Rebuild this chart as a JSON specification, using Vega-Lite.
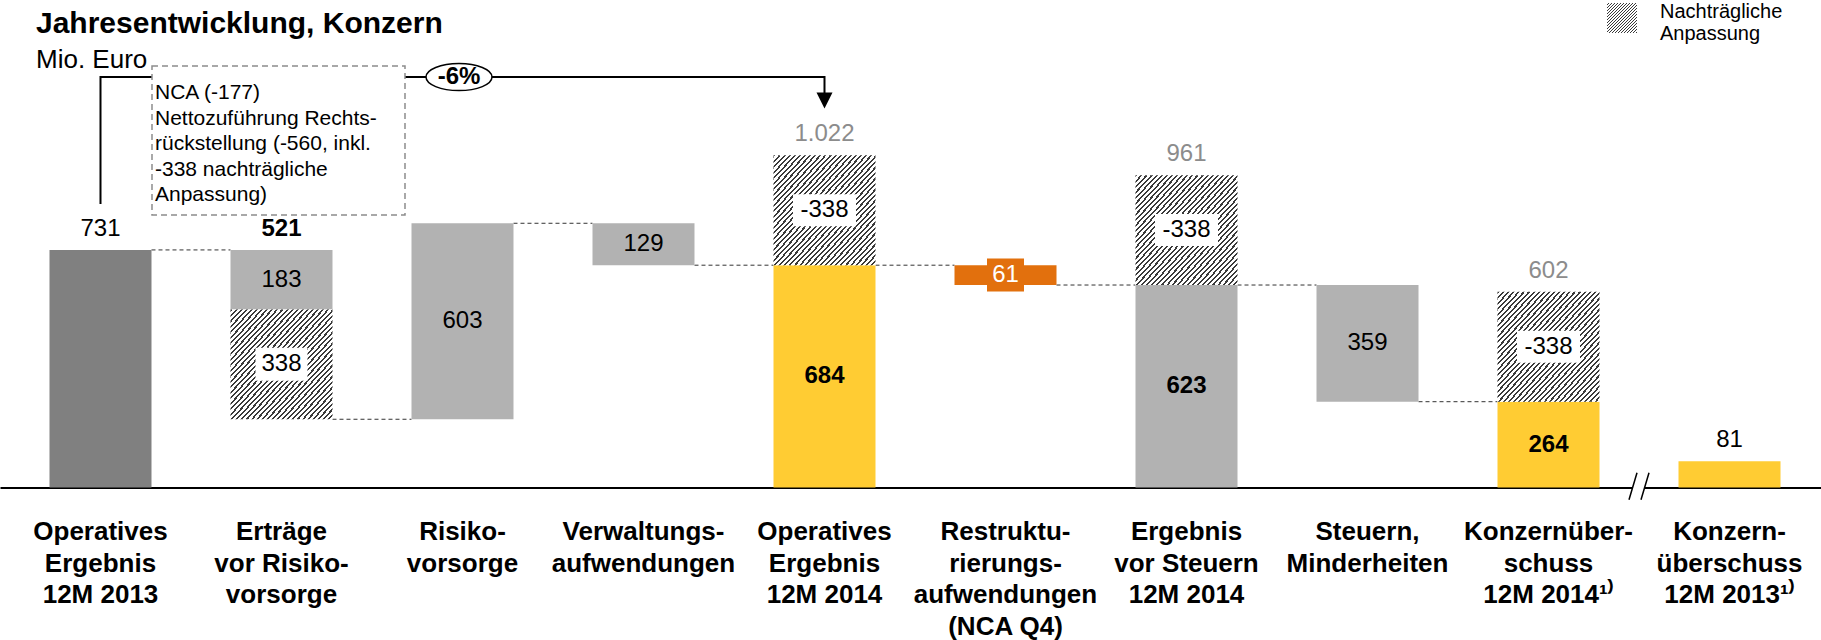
{
  "$schema": "https://vega.github.io/schema/vega-lite/v6.json",
  "width": 1821,
  "height": 487.5,
  "autosize": {"type": "none"},
  "padding": {"left": 0, "top": 0, "right": 0, "bottom": 152.5},
  "background": "white",
  "config": {"view": {"stroke": null}, "font": "Liberation Sans"},
  "title": {
    "text": "Jahresentwicklung, Konzern",
    "subtitle": "Mio. Euro",
    "anchor": "start",
    "frame": "group",
    "orient": "top",
    "offset": 0,
    "dx": 36,
    "dy": 73,
    "font": "Liberation Sans",
    "fontSize": 30,
    "fontWeight": "bold",
    "color": "black",
    "subtitleFont": "Liberation Sans",
    "subtitleFontSize": 26,
    "subtitleColor": "black",
    "subtitlePadding": 8
  },
  "datasets": {
    "balken": [
      {"cat": "Operatives|Ergebnis|12M 2013", "v2": 0, "v": 731, "art": "Ausgangswert"},
      {"cat": "Erträge|vor Risiko-|vorsorge", "v2": 548, "v": 731, "art": "Veränderung"},
      {"cat": "Erträge|vor Risiko-|vorsorge", "v2": 210, "v": 548, "art": "Nachträgliche Anpassung"},
      {"cat": "Risiko-|vorsorge", "v2": 210, "v": 813, "art": "Veränderung"},
      {"cat": "Verwaltungs-|aufwendungen", "v2": 684, "v": 813, "art": "Veränderung"},
      {"cat": "Operatives|Ergebnis|12M 2014", "v2": 0, "v": 684, "art": "Ergebnis"},
      {"cat": "Operatives|Ergebnis|12M 2014", "v2": 684, "v": 1022, "art": "Nachträgliche Anpassung"},
      {"cat": "Restruktu-|rierungs-|aufwendungen|(NCA Q4)", "v2": 623, "v": 684, "art": "Restrukturierung"},
      {"cat": "Ergebnis|vor Steuern|12M 2014", "v2": 0, "v": 623, "art": "Veränderung"},
      {"cat": "Ergebnis|vor Steuern|12M 2014", "v2": 623, "v": 961, "art": "Nachträgliche Anpassung"},
      {"cat": "Steuern,|Minderheiten", "v2": 264, "v": 623, "art": "Veränderung"},
      {"cat": "Konzernüber-|schuss|12M 2014¹⁾", "v2": 0, "v": 264, "art": "Ergebnis"},
      {"cat": "Konzernüber-|schuss|12M 2014¹⁾", "v2": 264, "v": 602, "art": "Nachträgliche Anpassung"},
      {"cat": "Konzern-|überschuss|12M 2013¹⁾", "v2": 0, "v": 81, "art": "Ergebnis"}
    ],
    "verbindungen": [
      {"cat": "Operatives|Ergebnis|12M 2013", "nach": "Erträge|vor Risiko-|vorsorge", "v": 731},
      {"cat": "Erträge|vor Risiko-|vorsorge", "nach": "Risiko-|vorsorge", "v": 210},
      {"cat": "Risiko-|vorsorge", "nach": "Verwaltungs-|aufwendungen", "v": 813},
      {"cat": "Verwaltungs-|aufwendungen", "nach": "Operatives|Ergebnis|12M 2014", "v": 684},
      {"cat": "Operatives|Ergebnis|12M 2014", "nach": "Restruktu-|rierungs-|aufwendungen|(NCA Q4)", "v": 684},
      {"cat": "Restruktu-|rierungs-|aufwendungen|(NCA Q4)", "nach": "Ergebnis|vor Steuern|12M 2014", "v": 623},
      {"cat": "Ergebnis|vor Steuern|12M 2014", "nach": "Steuern,|Minderheiten", "v": 623},
      {"cat": "Steuern,|Minderheiten", "nach": "Konzernüber-|schuss|12M 2014¹⁾", "v": 264}
    ],
    "werte": [
      {"cat": "Operatives|Ergebnis|12M 2013", "v": 731, "label": "731", "rolle": "oben"},
      {"cat": "Erträge|vor Risiko-|vorsorge", "v": 731, "label": "521", "rolle": "summe"},
      {"cat": "Erträge|vor Risiko-|vorsorge", "v": 639.5, "label": "183", "rolle": "innen"},
      {"cat": "Erträge|vor Risiko-|vorsorge", "v": 379, "label": "338", "rolle": "anpassung"},
      {"cat": "Risiko-|vorsorge", "v": 511.5, "label": "603", "rolle": "innen"},
      {"cat": "Verwaltungs-|aufwendungen", "v": 748.5, "label": "129", "rolle": "innen"},
      {"cat": "Operatives|Ergebnis|12M 2014", "v": 1022, "label": "1.022", "rolle": "brutto"},
      {"cat": "Operatives|Ergebnis|12M 2014", "v": 853, "label": "-338", "rolle": "anpassung"},
      {"cat": "Operatives|Ergebnis|12M 2014", "v": 342, "label": "684", "rolle": "ergebnis"},
      {"cat": "Restruktu-|rierungs-|aufwendungen|(NCA Q4)", "v": 653.5, "label": "61", "rolle": "restrukturierung"},
      {"cat": "Ergebnis|vor Steuern|12M 2014", "v": 961, "label": "961", "rolle": "brutto"},
      {"cat": "Ergebnis|vor Steuern|12M 2014", "v": 792, "label": "-338", "rolle": "anpassung"},
      {"cat": "Ergebnis|vor Steuern|12M 2014", "v": 311.5, "label": "623", "rolle": "ergebnis"},
      {"cat": "Steuern,|Minderheiten", "v": 443.5, "label": "359", "rolle": "innen"},
      {"cat": "Konzernüber-|schuss|12M 2014¹⁾", "v": 602, "label": "602", "rolle": "brutto"},
      {"cat": "Konzernüber-|schuss|12M 2014¹⁾", "v": 433, "label": "-338", "rolle": "anpassung"},
      {"cat": "Konzernüber-|schuss|12M 2014¹⁾", "v": 132, "label": "264", "rolle": "ergebnis"},
      {"cat": "Konzern-|überschuss|12M 2013¹⁾", "v": 81, "label": "81", "rolle": "oben"}
    ],
    "klammer": [
      {"cat": "Operatives|Ergebnis|12M 2013", "v": 872, "o": 1},
      {"cat": "Operatives|Ergebnis|12M 2013", "v": 1263, "o": 2},
      {"cat": "Operatives|Ergebnis|12M 2014", "v": 1263, "o": 3},
      {"cat": "Operatives|Ergebnis|12M 2014", "v": 1191, "o": 4}
    ],
    "pfeil": [
      {"cat": "Operatives|Ergebnis|12M 2014", "v": 1191}
    ],
    "veraenderung": [
      {"cat": "Risiko-|vorsorge", "v": 1263, "label": "-6%"}
    ],
    "notizrahmen": [
      {"cat": "Erträge|vor Risiko-|vorsorge", "v": 1067.7}
    ],
    "notiztext": [
      {"cat": "Erträge|vor Risiko-|vorsorge", "v": 1247, "text": "NCA (-177)\nNettozuführung Rechts-\nrückstellung (-560, inkl.\n-338 nachträgliche\nAnpassung)"}
    ],
    "bruch": [
      {"cat": "Konzernüber-|schuss|12M 2014¹⁾", "v": 0}
    ]
  },
  "encoding": {
    "x": {
      "field": "cat",
      "type": "nominal",
      "scale": {
        "type": "band",
        "domain": [
          "Operatives|Ergebnis|12M 2013",
          "Erträge|vor Risiko-|vorsorge",
          "Risiko-|vorsorge",
          "Verwaltungs-|aufwendungen",
          "Operatives|Ergebnis|12M 2014",
          "Restruktu-|rierungs-|aufwendungen|(NCA Q4)",
          "Ergebnis|vor Steuern|12M 2014",
          "Steuern,|Minderheiten",
          "Konzernüber-|schuss|12M 2014¹⁾",
          "Konzern-|überschuss|12M 2013¹⁾"
        ],
        "paddingInner": 0.43646,
        "paddingOuter": 0.2486,
        "align": 0.55,
        "round": false
      },
      "axis": {
        "title": null,
        "labelExpr": "split(datum.value, '|')",
        "labelAngle": 0,
        "labelFont": "Liberation Sans",
        "labelFontSize": 26,
        "labelFontWeight": "bold",
        "labelColor": "black",
        "labelLineHeight": 31.5,
        "labelPadding": 31,
        "labelLimit": 0,
        "labelOverlap": false,
        "labelBound": false,
        "labelFlush": false,
        "ticks": false,
        "tickSize": 0,
        "domainColor": "black",
        "domainWidth": 2,
        "grid": false
      }
    },
    "y": {
      "field": "v",
      "type": "quantitative",
      "scale": {"domain": [0, 1500], "nice": false, "zero": false},
      "axis": null
    }
  },
  "layer": [
    {
      "data": {"name": "verbindungen"},
      "mark": {"type": "rule", "strokeDash": [4, 3], "strokeWidth": 1, "color": "#333333"},
      "encoding": {
        "x": {"field": "cat", "type": "nominal", "bandPosition": 1},
        "x2": {"field": "nach", "bandPosition": 0}
      }
    },
    {
      "data": {"name": "balken"},
      "transform": [{"filter": "datum.art != 'Nachträgliche Anpassung'"}],
      "mark": {"type": "bar"},
      "encoding": {
        "y2": {"field": "v2"},
        "color": {
          "field": "art",
          "type": "nominal",
          "scale": {
            "domain": ["Ausgangswert", "Veränderung", "Ergebnis", "Restrukturierung"],
            "range": ["#808080", "#B2B2B2", "#FFCC33", "#E2700D"]
          },
          "legend": null
        }
      }
    },
    {
      "data": {"name": "balken"},
      "transform": [{"filter": "datum.art == 'Nachträgliche Anpassung'"}],
      "mark": {"type": "bar", "strokeWidth": 0,
        "fill": {"gradient": "linear", "x1": 0, "y1": 0, "x2": 1, "y2": 1, "stops": [
                {"offset": 0, "color": "#3a3a3a"}, {"offset": 0.01, "color": "#3a3a3a"}, {"offset": 0.01, "color": "#ffffff"}, {"offset": 0.025, "color": "#ffffff"},
                {"offset": 0.025, "color": "#3a3a3a"}, {"offset": 0.035, "color": "#3a3a3a"}, {"offset": 0.035, "color": "#ffffff"}, {"offset": 0.05, "color": "#ffffff"},
                {"offset": 0.05, "color": "#3a3a3a"}, {"offset": 0.06, "color": "#3a3a3a"}, {"offset": 0.06, "color": "#ffffff"}, {"offset": 0.075, "color": "#ffffff"},
                {"offset": 0.075, "color": "#3a3a3a"}, {"offset": 0.085, "color": "#3a3a3a"}, {"offset": 0.085, "color": "#ffffff"}, {"offset": 0.1, "color": "#ffffff"},
                {"offset": 0.1, "color": "#3a3a3a"}, {"offset": 0.11, "color": "#3a3a3a"}, {"offset": 0.11, "color": "#ffffff"}, {"offset": 0.125, "color": "#ffffff"},
                {"offset": 0.125, "color": "#3a3a3a"}, {"offset": 0.135, "color": "#3a3a3a"}, {"offset": 0.135, "color": "#ffffff"}, {"offset": 0.15, "color": "#ffffff"},
                {"offset": 0.15, "color": "#3a3a3a"}, {"offset": 0.16, "color": "#3a3a3a"}, {"offset": 0.16, "color": "#ffffff"}, {"offset": 0.175, "color": "#ffffff"},
                {"offset": 0.175, "color": "#3a3a3a"}, {"offset": 0.185, "color": "#3a3a3a"}, {"offset": 0.185, "color": "#ffffff"}, {"offset": 0.2, "color": "#ffffff"},
                {"offset": 0.2, "color": "#3a3a3a"}, {"offset": 0.21, "color": "#3a3a3a"}, {"offset": 0.21, "color": "#ffffff"}, {"offset": 0.225, "color": "#ffffff"},
                {"offset": 0.225, "color": "#3a3a3a"}, {"offset": 0.235, "color": "#3a3a3a"}, {"offset": 0.235, "color": "#ffffff"}, {"offset": 0.25, "color": "#ffffff"},
                {"offset": 0.25, "color": "#3a3a3a"}, {"offset": 0.26, "color": "#3a3a3a"}, {"offset": 0.26, "color": "#ffffff"}, {"offset": 0.275, "color": "#ffffff"},
                {"offset": 0.275, "color": "#3a3a3a"}, {"offset": 0.285, "color": "#3a3a3a"}, {"offset": 0.285, "color": "#ffffff"}, {"offset": 0.3, "color": "#ffffff"},
                {"offset": 0.3, "color": "#3a3a3a"}, {"offset": 0.31, "color": "#3a3a3a"}, {"offset": 0.31, "color": "#ffffff"}, {"offset": 0.325, "color": "#ffffff"},
                {"offset": 0.325, "color": "#3a3a3a"}, {"offset": 0.335, "color": "#3a3a3a"}, {"offset": 0.335, "color": "#ffffff"}, {"offset": 0.35, "color": "#ffffff"},
                {"offset": 0.35, "color": "#3a3a3a"}, {"offset": 0.36, "color": "#3a3a3a"}, {"offset": 0.36, "color": "#ffffff"}, {"offset": 0.375, "color": "#ffffff"},
                {"offset": 0.375, "color": "#3a3a3a"}, {"offset": 0.385, "color": "#3a3a3a"}, {"offset": 0.385, "color": "#ffffff"}, {"offset": 0.4, "color": "#ffffff"},
                {"offset": 0.4, "color": "#3a3a3a"}, {"offset": 0.41, "color": "#3a3a3a"}, {"offset": 0.41, "color": "#ffffff"}, {"offset": 0.425, "color": "#ffffff"},
                {"offset": 0.425, "color": "#3a3a3a"}, {"offset": 0.435, "color": "#3a3a3a"}, {"offset": 0.435, "color": "#ffffff"}, {"offset": 0.45, "color": "#ffffff"},
                {"offset": 0.45, "color": "#3a3a3a"}, {"offset": 0.46, "color": "#3a3a3a"}, {"offset": 0.46, "color": "#ffffff"}, {"offset": 0.475, "color": "#ffffff"},
                {"offset": 0.475, "color": "#3a3a3a"}, {"offset": 0.485, "color": "#3a3a3a"}, {"offset": 0.485, "color": "#ffffff"}, {"offset": 0.5, "color": "#ffffff"},
                {"offset": 0.5, "color": "#3a3a3a"}, {"offset": 0.51, "color": "#3a3a3a"}, {"offset": 0.51, "color": "#ffffff"}, {"offset": 0.525, "color": "#ffffff"},
                {"offset": 0.525, "color": "#3a3a3a"}, {"offset": 0.535, "color": "#3a3a3a"}, {"offset": 0.535, "color": "#ffffff"}, {"offset": 0.55, "color": "#ffffff"},
                {"offset": 0.55, "color": "#3a3a3a"}, {"offset": 0.56, "color": "#3a3a3a"}, {"offset": 0.56, "color": "#ffffff"}, {"offset": 0.575, "color": "#ffffff"},
                {"offset": 0.575, "color": "#3a3a3a"}, {"offset": 0.585, "color": "#3a3a3a"}, {"offset": 0.585, "color": "#ffffff"}, {"offset": 0.6, "color": "#ffffff"},
                {"offset": 0.6, "color": "#3a3a3a"}, {"offset": 0.61, "color": "#3a3a3a"}, {"offset": 0.61, "color": "#ffffff"}, {"offset": 0.625, "color": "#ffffff"},
                {"offset": 0.625, "color": "#3a3a3a"}, {"offset": 0.635, "color": "#3a3a3a"}, {"offset": 0.635, "color": "#ffffff"}, {"offset": 0.65, "color": "#ffffff"},
                {"offset": 0.65, "color": "#3a3a3a"}, {"offset": 0.66, "color": "#3a3a3a"}, {"offset": 0.66, "color": "#ffffff"}, {"offset": 0.675, "color": "#ffffff"},
                {"offset": 0.675, "color": "#3a3a3a"}, {"offset": 0.685, "color": "#3a3a3a"}, {"offset": 0.685, "color": "#ffffff"}, {"offset": 0.7, "color": "#ffffff"},
                {"offset": 0.7, "color": "#3a3a3a"}, {"offset": 0.71, "color": "#3a3a3a"}, {"offset": 0.71, "color": "#ffffff"}, {"offset": 0.725, "color": "#ffffff"},
                {"offset": 0.725, "color": "#3a3a3a"}, {"offset": 0.735, "color": "#3a3a3a"}, {"offset": 0.735, "color": "#ffffff"}, {"offset": 0.75, "color": "#ffffff"},
                {"offset": 0.75, "color": "#3a3a3a"}, {"offset": 0.76, "color": "#3a3a3a"}, {"offset": 0.76, "color": "#ffffff"}, {"offset": 0.775, "color": "#ffffff"},
                {"offset": 0.775, "color": "#3a3a3a"}, {"offset": 0.785, "color": "#3a3a3a"}, {"offset": 0.785, "color": "#ffffff"}, {"offset": 0.8, "color": "#ffffff"},
                {"offset": 0.8, "color": "#3a3a3a"}, {"offset": 0.81, "color": "#3a3a3a"}, {"offset": 0.81, "color": "#ffffff"}, {"offset": 0.825, "color": "#ffffff"},
                {"offset": 0.825, "color": "#3a3a3a"}, {"offset": 0.835, "color": "#3a3a3a"}, {"offset": 0.835, "color": "#ffffff"}, {"offset": 0.85, "color": "#ffffff"},
                {"offset": 0.85, "color": "#3a3a3a"}, {"offset": 0.86, "color": "#3a3a3a"}, {"offset": 0.86, "color": "#ffffff"}, {"offset": 0.875, "color": "#ffffff"},
                {"offset": 0.875, "color": "#3a3a3a"}, {"offset": 0.885, "color": "#3a3a3a"}, {"offset": 0.885, "color": "#ffffff"}, {"offset": 0.9, "color": "#ffffff"},
                {"offset": 0.9, "color": "#3a3a3a"}, {"offset": 0.91, "color": "#3a3a3a"}, {"offset": 0.91, "color": "#ffffff"}, {"offset": 0.925, "color": "#ffffff"},
                {"offset": 0.925, "color": "#3a3a3a"}, {"offset": 0.935, "color": "#3a3a3a"}, {"offset": 0.935, "color": "#ffffff"}, {"offset": 0.95, "color": "#ffffff"},
                {"offset": 0.95, "color": "#3a3a3a"}, {"offset": 0.96, "color": "#3a3a3a"}, {"offset": 0.96, "color": "#ffffff"}, {"offset": 0.975, "color": "#ffffff"},
                {"offset": 0.975, "color": "#3a3a3a"}, {"offset": 0.985, "color": "#3a3a3a"}, {"offset": 0.985, "color": "#ffffff"}, {"offset": 1, "color": "#ffffff"}
              ]}
      },
      "encoding": {
        "y2": {"field": "v2"},
        "opacity": {
          "field": "art",
          "type": "ordinal",
          "scale": {"domain": ["Nachträgliche Anpassung"], "range": [1]},
          "legend": {
            "orient": "none",
            "legendX": 1607,
            "legendY": 3,
            "title": null,
            "padding": 0,
            "symbolType": "square",
            "symbolSize": 900,
            "symbolStrokeWidth": 0,
            "symbolOpacity": 1,
            "labelFont": "Liberation Sans",
            "labelFontSize": 20,
            "labelOffset": 23,
            "labelLimit": 0,
            "labelColor": "black",
            "labelBaseline": "alphabetic",
            "labelExpr": "split(datum.label, ' ')",
            "encode": {
              "labels": {"update": {"lineHeight": {"value": 22}}},
              "symbols": {"update": {
                "stroke": {"value": "transparent"},
                "fill": {"value": {"gradient": "linear", "x1": 0, "y1": 0, "x2": 1, "y2": 1, "stops": [
                  {"offset": 0, "color": "#3a3a3a"}, {"offset": 0.0333, "color": "#3a3a3a"}, {"offset": 0.0333, "color": "#ffffff"}, {"offset": 0.0833, "color": "#ffffff"},
                  {"offset": 0.0833, "color": "#3a3a3a"}, {"offset": 0.1167, "color": "#3a3a3a"}, {"offset": 0.1167, "color": "#ffffff"}, {"offset": 0.1667, "color": "#ffffff"},
                  {"offset": 0.1667, "color": "#3a3a3a"}, {"offset": 0.2, "color": "#3a3a3a"}, {"offset": 0.2, "color": "#ffffff"}, {"offset": 0.25, "color": "#ffffff"},
                  {"offset": 0.25, "color": "#3a3a3a"}, {"offset": 0.2833, "color": "#3a3a3a"}, {"offset": 0.2833, "color": "#ffffff"}, {"offset": 0.3333, "color": "#ffffff"},
                  {"offset": 0.3333, "color": "#3a3a3a"}, {"offset": 0.3667, "color": "#3a3a3a"}, {"offset": 0.3667, "color": "#ffffff"}, {"offset": 0.4167, "color": "#ffffff"},
                  {"offset": 0.4167, "color": "#3a3a3a"}, {"offset": 0.45, "color": "#3a3a3a"}, {"offset": 0.45, "color": "#ffffff"}, {"offset": 0.5, "color": "#ffffff"},
                  {"offset": 0.5, "color": "#3a3a3a"}, {"offset": 0.5333, "color": "#3a3a3a"}, {"offset": 0.5333, "color": "#ffffff"}, {"offset": 0.5833, "color": "#ffffff"},
                  {"offset": 0.5833, "color": "#3a3a3a"}, {"offset": 0.6167, "color": "#3a3a3a"}, {"offset": 0.6167, "color": "#ffffff"}, {"offset": 0.6667, "color": "#ffffff"},
                  {"offset": 0.6667, "color": "#3a3a3a"}, {"offset": 0.7, "color": "#3a3a3a"}, {"offset": 0.7, "color": "#ffffff"}, {"offset": 0.75, "color": "#ffffff"},
                  {"offset": 0.75, "color": "#3a3a3a"}, {"offset": 0.7833, "color": "#3a3a3a"}, {"offset": 0.7833, "color": "#ffffff"}, {"offset": 0.8333, "color": "#ffffff"},
                  {"offset": 0.8333, "color": "#3a3a3a"}, {"offset": 0.8667, "color": "#3a3a3a"}, {"offset": 0.8667, "color": "#ffffff"}, {"offset": 0.9167, "color": "#ffffff"},
                  {"offset": 0.9167, "color": "#3a3a3a"}, {"offset": 0.95, "color": "#3a3a3a"}, {"offset": 0.95, "color": "#ffffff"}, {"offset": 1, "color": "#ffffff"}
                ]}}
              }}
            }
          }
        }
      }
    },
    {
      "data": {"name": "klammer"},
      "mark": {"type": "line", "color": "black", "strokeWidth": 2},
      "encoding": {"order": {"field": "o", "type": "quantitative"}}
    },
    {
      "data": {"name": "notizrahmen"},
      "mark": {"type": "point", "shape": "M-1,-0.589L1,-0.589L1,0.589L-1,0.589Z", "size": 64009, "filled": true, "fill": "white", "stroke": "#8c8c8c", "strokeWidth": 1.5, "strokeDash": [6, 4], "opacity": 1, "xOffset": -3}
    },
    {
      "data": {"name": "notiztext"},
      "mark": {"type": "text", "align": "left", "baseline": "top", "dx": -126.5, "fontSize": 21, "lineHeight": 25.5, "lineBreak": "\n", "color": "black", "font": "Liberation Sans"},
      "encoding": {"text": {"field": "text", "type": "nominal"}}
    },
    {
      "data": {"name": "veraenderung"},
      "mark": {"type": "point", "shape": "M-1,0A1,0.41,0,1,0,1,0A1,0.41,0,1,0,-1,0Z", "size": 4356, "filled": true, "fill": "white", "stroke": "black", "strokeWidth": 1.5, "opacity": 1, "xOffset": -3.5}
    },
    {
      "data": {"name": "veraenderung"},
      "mark": {"type": "text", "fontSize": 24, "fontWeight": "bold", "baseline": "middle", "align": "center", "dx": -3.5, "color": "black", "font": "Liberation Sans"},
      "encoding": {"text": {"field": "label", "type": "nominal"}}
    },
    {
      "data": {"name": "pfeil"},
      "mark": {"type": "point", "shape": "M-1,-1L1,-1L0,1Z", "size": 256, "filled": true, "fill": "black", "strokeWidth": 0, "opacity": 1}
    },
    {
      "data": {"name": "werte"},
      "transform": [{"filter": "datum.rolle == 'anpassung'"}],
      "mark": {"type": "point", "filled": true, "fill": "white", "strokeWidth": 0, "opacity": 1},
      "encoding": {
        "shape": {"condition": {"test": "datum.label == '338'", "value": "M-1,-0.635L1,-0.635L1,0.635L-1,0.635Z"}, "value": "M-1,-0.508L1,-0.508L1,0.508L-1,0.508Z"},
        "size": {"condition": {"test": "datum.label == '338'", "value": 2704}, "value": 3969}
      }
    },
    {
      "data": {"name": "werte"},
      "transform": [{"filter": "datum.rolle == 'restrukturierung'"}],
      "mark": {"type": "point", "shape": "M-1,-0.892L1,-0.892L1,0.892L-1,0.892Z", "size": 1369, "filled": true, "fill": "#E2700D", "strokeWidth": 0, "opacity": 1}
    },
    {
      "data": {"name": "werte"},
      "transform": [{"filter": "datum.rolle == 'oben' || datum.rolle == 'brutto'"}],
      "mark": {"type": "text", "fontSize": 24, "baseline": "alphabetic", "align": "center", "dy": -14, "font": "Liberation Sans"},
      "encoding": {
        "text": {"field": "label", "type": "nominal"},
        "color": {"condition": {"test": "datum.rolle == 'brutto'", "value": "#8C8C8C"}, "value": "black"}
      }
    },
    {
      "data": {"name": "werte"},
      "transform": [{"filter": "datum.rolle == 'summe'"}],
      "mark": {"type": "text", "fontSize": 24, "fontWeight": "bold", "baseline": "alphabetic", "align": "center", "dy": -14, "color": "black", "font": "Liberation Sans"},
      "encoding": {"text": {"field": "label", "type": "nominal"}}
    },
    {
      "data": {"name": "werte"},
      "transform": [{"filter": "datum.rolle == 'innen' || datum.rolle == 'anpassung'"}],
      "mark": {"type": "text", "fontSize": 24, "baseline": "middle", "align": "center", "color": "black", "font": "Liberation Sans"},
      "encoding": {"text": {"field": "label", "type": "nominal"}}
    },
    {
      "data": {"name": "werte"},
      "transform": [{"filter": "datum.rolle == 'ergebnis'"}],
      "mark": {"type": "text", "fontSize": 24, "fontWeight": "bold", "baseline": "middle", "align": "center", "color": "black", "font": "Liberation Sans"},
      "encoding": {"text": {"field": "label", "type": "nominal"}}
    },
    {
      "data": {"name": "werte"},
      "transform": [{"filter": "datum.rolle == 'restrukturierung'"}],
      "mark": {"type": "text", "fontSize": 24, "baseline": "middle", "align": "center", "color": "white", "font": "Liberation Sans"},
      "encoding": {"text": {"field": "label", "type": "nominal"}}
    },
    {
      "data": {"name": "bruch"},
      "mark": {"type": "point", "shape": "M-0.667,0.82L-0.133,-0.98L0.667,-0.98L0.133,0.82Z", "size": 900, "filled": true, "fill": "white", "strokeWidth": 0, "opacity": 1, "xOffset": 90.5}
    },
    {
      "data": {"name": "bruch"},
      "mark": {"type": "point", "shape": "M-0.667,0.82L-0.133,-0.98M0.133,0.82L0.667,-0.98", "size": 900, "filled": false, "stroke": "black", "strokeWidth": 1.5, "opacity": 1, "xOffset": 90.5}
    }
  ]
}
